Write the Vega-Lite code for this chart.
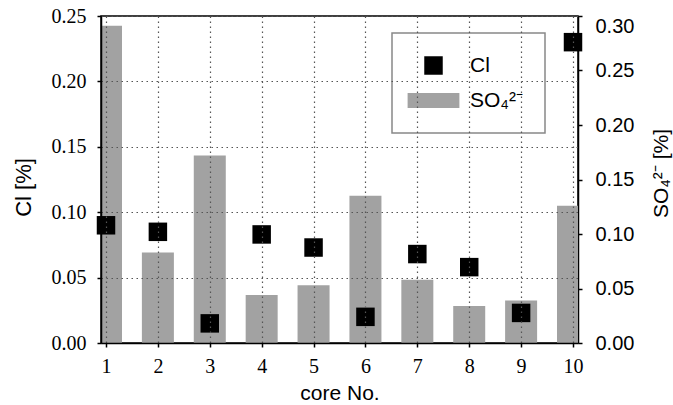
{
  "$schema": "https://vega.github.io/schema/vega-lite/v6.json",
  "width": 477,
  "height": 327,
  "autosize": "none",
  "padding": {"left": 101, "top": 16, "right": 95, "bottom": 62},
  "background": "white",
  "config": {
    "view": {"stroke": "black", "strokeWidth": 1.5},
    "axis": {
      "domainColor": "black",
      "domainWidth": 1.5,
      "tickColor": "black",
      "tickWidth": 1.5,
      "tickSize": 4,
      "labelColor": "black",
      "titleColor": "black",
      "titleFontWeight": "normal",
      "gridColor": "#555555",
      "gridDash": [1.5, 3.5],
      "gridWidth": 1.2,
      "gridOpacity": 1
    },
    "axisLeft": {"labelFont": "Liberation Serif"},
    "axisBottom": {"labelFont": "Liberation Serif"}
  },
  "data": {
    "values": [
      {"core": 1, "cl": 0.090, "so4": 0.291},
      {"core": 2, "cl": 0.085, "so4": 0.083},
      {"core": 3, "cl": 0.015, "so4": 0.172},
      {"core": 4, "cl": 0.083, "so4": 0.044},
      {"core": 5, "cl": 0.073, "so4": 0.053},
      {"core": 6, "cl": 0.020, "so4": 0.135},
      {"core": 7, "cl": 0.068, "so4": 0.058},
      {"core": 8, "cl": 0.058, "so4": 0.034},
      {"core": 9, "cl": 0.023, "so4": 0.039},
      {"core": 10, "cl": 0.230, "so4": 0.126}
    ]
  },
  "layer": [
    {
      "mark": {"type": "bar", "size": 32, "clip": true, "color": "#a2a2a2"},
      "encoding": {
        "x": {
          "field": "core",
          "type": "quantitative",
          "scale": {"domain": [1, 10], "nice": false, "zero": false},
          "axis": {
            "values": [1, 2, 3, 4, 5, 6, 7, 8, 9, 10],
            "grid": true,
            "zindex": 1,
            "labelFont": "Liberation Serif",
            "labelFontSize": 20,
            "labelPadding": 9,
            "title": "core No.",
            "titleFont": "Liberation Sans",
            "titleFontSize": 21,
            "titlePadding": 6
          }
        },
        "y": {
          "field": "so4",
          "type": "quantitative",
          "scale": {"domain": [0, 0.3], "nice": false},
          "axis": {
            "orient": "right",
            "values": [0, 0.05, 0.1, 0.15, 0.2, 0.25, 0.3],
            "format": ".2f",
            "grid": false,
            "labelFont": "Liberation Sans",
            "labelFontSize": 20,
            "labelPadding": 13,
            "labelBaseline": {"condition": {"test": "datum.value > 0.29", "value": "top"}, "value": "middle"},
            "title": "SO₄²⁻ [%]",
            "titleAngle": 270,
            "titleFont": "Liberation Sans",
            "titleFontSize": 21,
            "titleX": 83,
            "titleY": 157,
            "titleAlign": "center",
            "titleBaseline": "middle"
          }
        },
        "color": {
          "datum": "SO₄²⁻",
          "scale": {"domain": ["Cl", "SO₄²⁻"], "range": ["black", "#a2a2a2"]},
          "legend": {
            "orient": "none",
            "legendX": 291,
            "legendY": 17,
            "title": null,
            "padding": 22,
            "strokeColor": "#888888",
            "fillColor": "white",
            "labelFont": "Liberation Sans",
            "labelFontSize": 21,
            "labelColor": "black",
            "labelLimit": 300,
            "symbolSize": 342,
            "symbolStrokeWidth": 0,
            "symbolOpacity": 1,
            "symbolOffset": 9,
            "labelOffset": 26,
            "rowPadding": 13,
            "encode": {
              "legend": {"update": {"strokeWidth": {"value": 1.5}}},
              "symbols": {
                "update": {
                  "shape": {"signal": "datum.value === 'Cl' ? 'square' : 'M-2.8,-0.8H2.8V0.8H-2.8Z'"}
                }
              }
            }
          }
        }
      }
    },
    {
      "mark": {"type": "point", "shape": "square", "filled": true, "size": 342, "opacity": 1},
      "encoding": {
        "x": {"field": "core", "type": "quantitative"},
        "y": {
          "field": "cl",
          "type": "quantitative",
          "scale": {"domain": [0, 0.25], "nice": false},
          "axis": {
            "orient": "left",
            "values": [0, 0.05, 0.1, 0.15, 0.2, 0.25],
            "format": ".2f",
            "grid": true,
            "zindex": 1,
            "labelFont": "Liberation Serif",
            "labelFontSize": 20,
            "labelPadding": 11,
            "title": "Cl [%]",
            "titleFont": "Liberation Sans",
            "titleFontSize": 22,
            "titleX": -78,
            "titleY": 171,
            "titleAlign": "center",
            "titleBaseline": "middle"
          }
        },
        "color": {"datum": "Cl"}
      }
    }
  ],
  "resolve": {"scale": {"y": "independent"}}
}
